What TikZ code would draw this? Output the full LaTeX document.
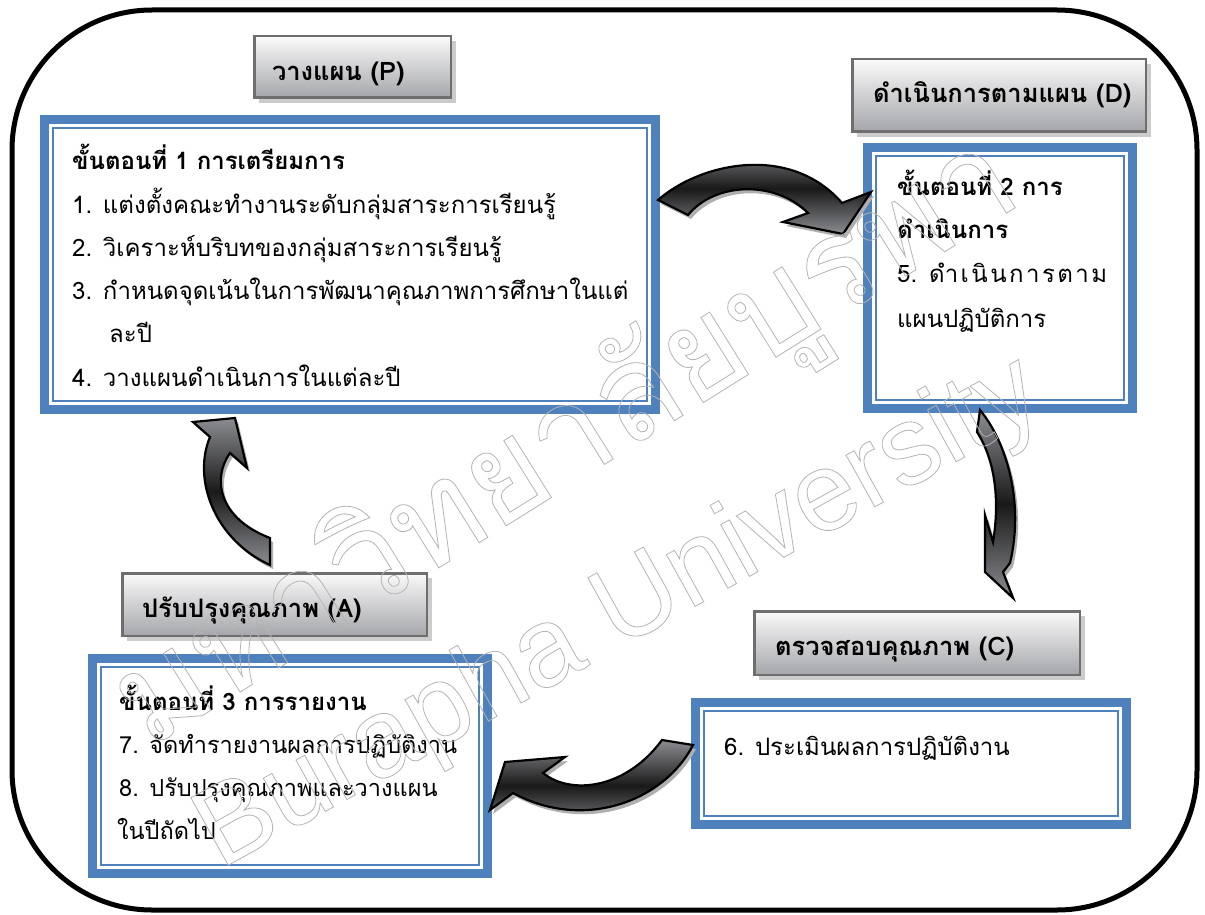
\documentclass[tikz,border=0pt]{standalone}
\usepackage{fontspec}
\newfontfamily\thaifont[Script=Thai]{Loma}
\newfontfamily\wmlatin{Liberation Sans}
\usetikzlibrary{shadows}
\definecolor{boxblue}{RGB}{79,129,189}
\definecolor{labborder}{RGB}{110,110,110}
\definecolor{labtop}{RGB}{250,250,250}
\definecolor{labbot}{RGB}{165,166,170}
\definecolor{arrgray}{RGB}{140,141,146}
\definecolor{arrdark}{RGB}{25,25,25}
\definecolor{arrshade}{RGB}{175,175,175}
\definecolor{wmgray}{RGB}{180,180,180}
\tikzset{
  frame/.style={draw=black, line width=5pt, rounded corners=140pt},
  bluebox/.style={draw=boxblue, line width=9pt, inner sep=0pt, outer sep=0pt, fill=white},
  innerline/.style={draw=boxblue, line width=1.8pt},
  lab/.style={draw=labborder, line width=2.5pt, top color=labtop, bottom color=labbot,
    inner ysep=0pt, outer sep=0pt, font=\thaifont\bfseries\fontsize{25.5}{30}\selectfont,
    drop shadow={shadow xshift=5pt, shadow yshift=-5pt, fill=gray!40, opacity=1}},
  body/.style={anchor=base west, inner sep=0pt, font=\thaifont\fontsize{24}{28}\selectfont},
  bodysm/.style={anchor=base west, inner sep=0pt, font=\thaifont\fontsize{23.5}{28}\selectfont},
  title/.style={anchor=base west, inner sep=0pt, font=\thaifont\bfseries\fontsize{24}{28}\selectfont},
  arr/.style={draw=black, line width=2.2pt, line join=miter, top color=arrgray, bottom color=arrgray, middle color=arrdark},
  arrsh/.style={fill=arrshade},
  wm/.style={inner sep=0pt, text=wmgray}
}
\def\arrPD{(658,200) .. controls (700,163) and (790,143) .. (842,203) -- (871,192) -- (843,234) -- (783,222) -- (808,213) .. controls (775,180) and (715,182) .. (688,215) -- cycle}
\def\arrDC{(980,410) .. controls (1005,440) and (1025,500) .. (1010,563) -- (1003,572) -- (1013,598) -- (985,572) -- (985,515) -- (993,542) .. controls (1000,500) and (995,460) .. (977,432) -- cycle}
\def\arrCA{(662,740) -- (693,745) .. controls (665,800) and (585,832) .. (513,793) -- (490,810) -- (505,762) -- (565,757) -- (543,773) .. controls (570,795) and (625,790) .. (662,740) -- cycle}
\def\arrAP{(270,565) .. controls (215,540) and (192,480) .. (210,437) -- (193,422) -- (235,418) -- (247,468) -- (230,453) .. controls (212,478) and (218,518) .. (270,538) -- cycle}
\begin{document}
\begin{tikzpicture}[x=1pt,y=-1pt]
\useasboundingbox (0,0) rectangle (1205,915);
\fill[white] (0,0) rectangle (1205,915);
\draw[frame] (12,10) rectangle (1197,910);

% blue boxes
\node[bluebox, minimum width=611, minimum height=290] (b1) at (350,264.5) {};
\node[bluebox, minimum width=265, minimum height=261] (b2) at (1000,278) {};
\node[bluebox, minimum width=395, minimum height=215] (b3) at (290,766) {};
\node[bluebox, minimum width=431, minimum height=122] (b6) at (911,763.5) {};
\foreach \b in {b1,b2,b3,b6}{
  \draw[innerline] ([shift={(8.5,8.5)}]\b.north west) rectangle ([shift={(-8.5,-8.5)}]\b.south east);
}

% labels
\node[lab, minimum height=61.5, inner xsep=17.75, text height=34, text depth=6] (lP) at (352.5,67) {\makebox[161pt][l]{วางแผน (P)}};
\node[lab, minimum height=72.5, inner xsep=20.75, text height=27.5, text depth=12.5] (lD) at (999,95.5) {\makebox[252pt][l]{ดำเนินการตามแผน (D)}};
\node[lab, minimum height=62.5, inner xsep=19.75, text height=32.5, text depth=7.5] (lA) at (274.5,604.5) {\makebox[265pt][l]{ปรับปรุงคุณภาพ (A)}};
\node[lab, minimum height=63.5, inner xsep=20.75, text height=32, text depth=8] (lC) at (917,643) {\makebox[284pt][l]{ตรวจสอบคุณภาพ (C)}};

% box 1 text
\node[title] (b1t0) at (72,170) {ขั้นตอนที่ 1 การเตรียมการ};
\node[body] (b1t1) at (72,213) {1. แต่งตั้งคณะทำงานระดับกลุ่มสาระการเรียนรู้};
\node[body] (b1t2) at (72,256) {2. วิเคราะห์บริบทของกลุ่มสาระการเรียนรู้};
\node[body] (b1t3) at (72,299) {3. กำหนดจุดเน้นในการพัฒนาคุณภาพการศึกษาในแต่};
\node[body] (b1t4) at (109,342) {ละปี};
\node[body] (b1t5) at (72,386) {4. วางแผนดำเนินการในแต่ละปี};

% box 2 text
\node[title] (b2t0) at (897,195) {ขั้นตอนที่ 2 การ};
\node[title] (b2t1) at (897,238) {ดำเนินการ};
\node[body] (b2t2) at (897,282) {\hbox to 210pt{5.\hspace{12pt}ดำ\hfill เ\hfill นิ\hfill น\hfill ก\hfill า\hfill ร\hfill ต\hfill า\hfill ม}};
\node[body] (b2t3) at (897,327) {แผนปฏิบัติการ};

% box 3 text
\node[title] (b3t0) at (119,710) {ขั้นตอนที่ 3 การรายงาน};
\node[bodysm] (b3t1) at (119,753) {7. จัดทำรายงานผลการปฏิบัติงาน};
\node[bodysm] (b3t2) at (119,796) {8. ปรับปรุงคุณภาพและวางแผน};
\node[bodysm] (b3t3) at (117,839) {ในปีถัดไป};

% box 6 text
\node[body] (b6t1) at (724,755) {6. ประเมินผลการปฏิบัติงาน};

% curved arrows (shadow, then body)
\fill[arrsh, shift={(3,4)}] \arrPD;
\path[arr] \arrPD;
\fill[arrsh, shift={(3,4)}] \arrDC;
\path[arr] \arrDC;
\fill[arrsh, shift={(3,4)}] \arrCA;
\path[arr] \arrCA;
\fill[arrsh, shift={(3,4)}] \arrAP;
\path[arr] \arrAP;

% watermark (outlined text)
\node[wm, rotate=32, font=\thaifont\fontsize{132}{136}\selectfont] (wm1) at (568,445) {\special{pdf:literal direct 1 Tr 0.8 w}มหาวิทยาลัยบูรพา};
\node[wm, rotate=29, font=\wmlatin\fontsize{112}{120}\selectfont] (wm2) at (620,615) {\special{pdf:literal direct 1 Tr 0.8 w}Burapha University};
\end{tikzpicture}
\end{document}
